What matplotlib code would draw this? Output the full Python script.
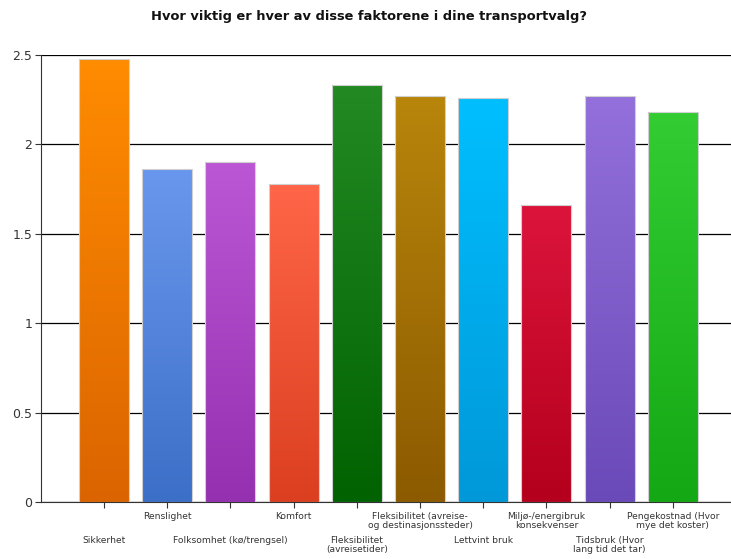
import numpy as np
import matplotlib.pyplot as plt
from matplotlib.colors import LinearSegmentedColormap

categories = [
    'Sikkerhet',
    'Renslighet',
    'Folksomhet (kø/trengsel)',
    'Komfort',
    'Fleksibilitet\n(avreisetider)',
    'Fleksibilitet (avreise-\nog destinasjonssteder)',
    'Lettvint bruk',
    'Miljø-/energibruk\nkonsekvenser',
    'Tidsbruk (Hvor\nlang tid det tar)',
    'Pengekostnad (Hvor\nmye det koster)',
]
values = [2.48, 1.86, 1.90, 1.78, 2.33, 2.27, 2.26, 1.66, 2.27, 2.18]

# farger: topp -> bunn
top_colors = ['#ff8c00', '#6a97ee', '#bb57d5', '#ff6548', '#238a23',
              '#b8860b', '#00bfff', '#dc143c', '#9370db', '#33cd33']
bottom_colors = ['#dc6400', '#3c6fc7', '#9530b0', '#db3f20', '#006200',
                 '#8c5a00', '#0098d8', '#b4001c', '#6a4ab8', '#14a814']

fig = plt.figure(figsize=(7.31, 5.59), dpi=100)
ax = fig.add_axes([0.0557, 0.102, 0.9443, 0.7996])

x = np.arange(len(categories))
bars = ax.bar(x, values, width=0.79, color='none', edgecolor='#d0d0d0',
              linewidth=0.8, zorder=3)

grad = np.linspace(0, 1, 256).reshape(-1, 1)
for b, c1, c2 in zip(bars, top_colors, bottom_colors):
    cmap = LinearSegmentedColormap.from_list('g', [c1, c2])
    x0, y0 = b.get_x(), b.get_y()
    w, h = b.get_width(), b.get_height()
    im = ax.imshow(grad, cmap=cmap, aspect='auto', origin='upper',
                   extent=[x0, x0 + w, y0, y0 + h], zorder=2)
    im.set_clip_path(b)

ax.set_xlim(-1, 9.92)
ax.set_ylim(0, 2.5)
ax.set_yticks([0, 0.5, 1, 1.5, 2, 2.5])
ax.set_yticklabels(['0', '0.5', '1', '1.5', '2', '2.5'])
ax.yaxis.grid(True, color='black', linewidth=0.9, zorder=0)
ax.set_axisbelow(True)

ax.set_xticks(x)
ax.set_xticklabels([])
ax.tick_params(axis='x', length=4, color='#333333')
ax.tick_params(axis='y', length=4, color='#333333', labelsize=9,
               labelcolor='#333333', pad=2)

for s in ['top', 'right']:
    ax.spines[s].set_visible(False)
for s in ['left', 'bottom']:
    ax.spines[s].set_color('#333333')

for i, lab in enumerate(categories):
    off = -7 if i % 2 == 1 else -24.5
    ax.annotate(lab, xy=(i, 0), xycoords=('data', 'axes fraction'),
                xytext=(0, off), textcoords='offset points',
                ha='center', va='top', fontsize=6.6, color='#333333',
                linespacing=1.05, annotation_clip=False)

fig.suptitle('Hvor viktig er hver av disse faktorene i dine transportvalg?',
             x=0.505, y=0.982, fontsize=9.4, fontweight='bold', color='#111111')

fig.savefig('out.png', dpi=100)
